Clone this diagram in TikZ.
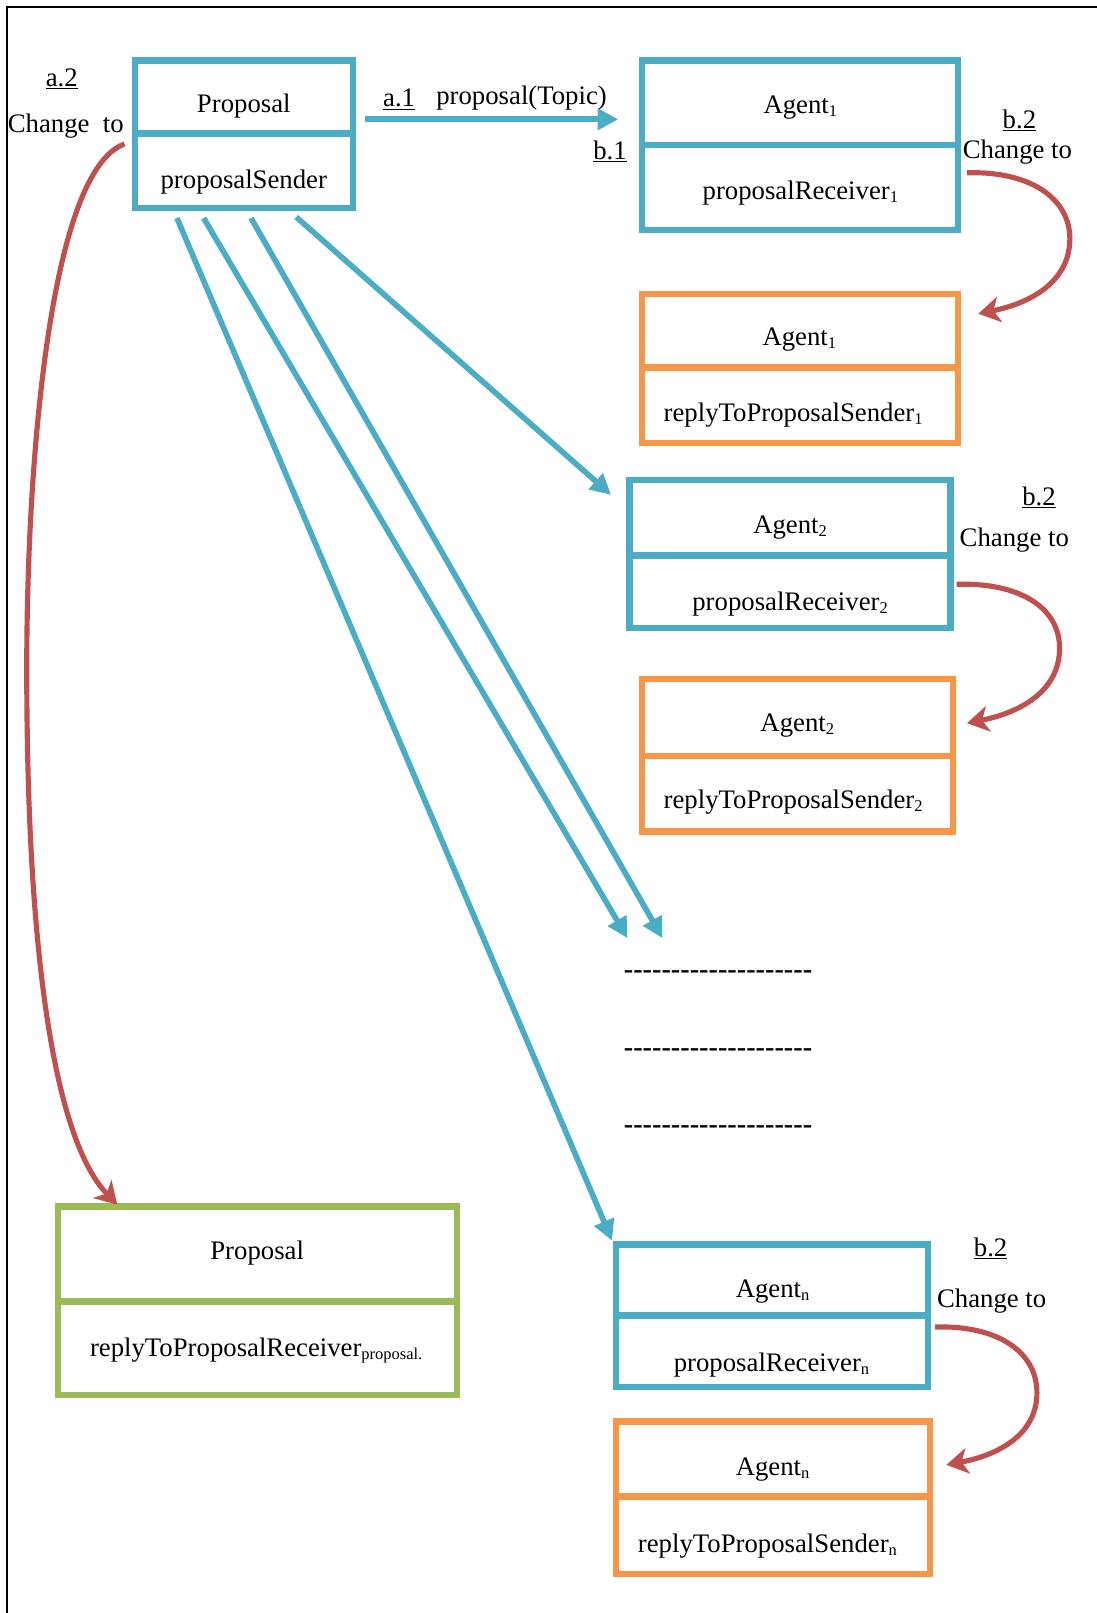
\documentclass[tikz,border=0pt]{standalone}
\usepackage{fontspec}
\setmainfont{Liberation Serif}
\usetikzlibrary{arrows.meta}
\definecolor{cblue}{HTML}{4BACC6}
\definecolor{corange}{HTML}{F79646}
\definecolor{cgreen}{HTML}{9BBB59}
\definecolor{cred}{HTML}{C0504D}
\newcommand\mysub[1]{\raisebox{-0.25ex}{\fontsize{16}{16}\selectfont #1}}
\newcommand\dashrow{-{}-{}-{}-{}-{}-{}-{}-{}-{}-{}-{}-{}-{}-{}-{}-{}-{}-{}-{}-{}}
\begin{document}
\begin{tikzpicture}[x=1pt,y=-1pt,
  box/.style={draw, line width=6pt, rectangle, inner sep=0pt},
  bbox/.style={box, draw=cblue},
  obox/.style={box, draw=corange},
  gbox/.style={box, draw=cgreen},
  txt/.style={font=\fontsize{26}{30}\selectfont, inner sep=0pt, text height=17.5pt, text depth=5.5pt, yshift=-2pt},
  dtxt/.style={font=\fontsize{27.5}{30}\selectfont\bfseries, inner sep=0pt},
  barrow/.style={draw=cblue, line width=5.5pt, -{Triangle[length=20pt,width=20pt]}},
  rarrow/.style={draw=cred, line width=5pt, -{Stealth[length=21pt,width=25pt,inset=6pt]}},
]
\useasboundingbox (0,0) rectangle (1066,1568);
% frame
\draw[line width=1.5pt] (7,1568) -- (7,7) -- (1066,7);

% Proposal (sender)
\node[bbox, minimum width=212, minimum height=71] (pt) at (237,94.25) {};
\node[bbox, minimum width=212, minimum height=72] (pb) at (237,166.25) {};
\node[txt] (ptt) at (237,101) {Proposal};
\node[txt] (pbt) at (237,175) {proposalSender};

% Agent1 blue
\node[bbox, minimum width=307, minimum height=82] (a1t) at (777.5,99.75) {};
\node[bbox, minimum width=307, minimum height=82] (a1b) at (777.5,182.25) {};
\node[txt] (a1tt) at (778,102) {Agent\mysub{1}};
\node[txt] (a1bt) at (778,186) {proposalReceiver\mysub{1}};

% Agent1 orange
\node[obox, minimum width=307, minimum height=71] (o1t) at (777.5,321.25) {};
\node[obox, minimum width=307, minimum height=73] (o1b) at (777.5,393.75) {};
\node[txt] (o1tt) at (777,328) {Agent\mysub{1}};
\node[txt] (o1bt) at (771,402) {replyToProposalSender\mysub{1}};

% Agent2 blue
\node[bbox, minimum width=312, minimum height=73] (a2t) at (768,503.25) {};
\node[bbox, minimum width=312, minimum height=70] (a2b) at (768,575.25) {};
\node[txt] (a2tt) at (768,511) {Agent\mysub{2}};
\node[txt] (a2bt) at (768,585) {proposalReceiver\mysub{2}};

% Agent2 orange
\node[obox, minimum width=302, minimum height=75] (o2t) at (775,697.25) {};
\node[obox, minimum width=302, minimum height=73] (o2b) at (775,771.75) {};
\node[txt] (o2tt) at (775,703) {Agent\mysub{2}};
\node[txt] (o2bt) at (771,778) {replyToProposalSender\mysub{2}};

% Green proposal
\node[gbox, minimum width=388, minimum height=92] (gt) at (250,1218.75) {};
\node[gbox, minimum width=388, minimum height=91] (gb) at (250,1310.75) {};
\node[txt] (gtt) at (250,1216) {Proposal};
\node[txt] (gbt) at (249,1311) {replyToProposalReceiver\mysub{proposal.}};

% Agent n blue
\node[bbox, minimum width=303, minimum height=69] (ant) at (750.5,1244.25) {};
\node[bbox, minimum width=303, minimum height=69] (anb) at (750.5,1313.75) {};
\node[txt] (antt) at (751,1253) {Agent\mysub{n}};
\node[txt] (anbt) at (750,1325) {proposalReceiver\mysub{n}};

% Agent n orange
\node[obox, minimum width=305, minimum height=73] (ont) at (751.5,1418.25) {};
\node[obox, minimum width=305, minimum height=75] (onb) at (751.5,1492.75) {};
\node[txt] (ontt) at (751,1426) {Agent\mysub{n}};
\node[txt] (onbt) at (746,1501) {replyToProposalSender\mysub{n}};

% labels
\node[txt] (la2) at (60,76) {\underline{a.2}};
\node[txt] (la2c) at (64,121) {Change\ \ to};
\node[txt] (la1) at (388,96) {\underline{a.1}};
\node[txt] (lpt) at (507,94) {proposal(Topic)};
\node[txt] (lb1) at (593,147) {\underline{b.1}};
\node[txt] (lb21) at (991,117) {\underline{b.2}};
\node[txt] (lb21c) at (989,146) {Change to};
\node[txt] (lb22) at (1010,483) {\underline{b.2}};
\node[txt] (lb22c) at (986,523) {Change to};
\node[txt] (lb2n) at (963,1213) {\underline{b.2}};
\node[txt] (lb2nc) at (964,1263) {Change to};

% dash rows
\node[dtxt] (d1) at (698,947) {\dashrow};
\node[dtxt] (d2) at (698,1023) {\dashrow};
\node[dtxt] (d3) at (698,1098) {\dashrow};

% coordinates for blue arrows
\coordinate (s0) at (355,116);
\coordinate (e0) at (601,116);
\coordinate (s1) at (288,211);
\coordinate (e1) at (594,481);
\coordinate (s2) at (244,212);
\coordinate (e2) at (644,912);
\coordinate (s3) at (198,212);
\coordinate (e3) at (610,912);
\coordinate (s4) at (172,212);
\coordinate (e4) at (595,1206);
\draw[barrow] (s0) -- (e0);
\draw[barrow] (s1) -- (e1);
\draw[barrow] (s2) -- (e2);
\draw[barrow] (s3) -- (e3);
\draw[barrow] (s4) -- (e4);

% red arrows
\coordinate (r0s) at (121,140);
\coordinate (r0m) at (26,650);
\coordinate (r0e) at (114,1171);
\draw[rarrow] (r0s) .. controls (50,165) and (26,440) .. (r0m) .. controls (26,940) and (55,1110) .. (r0e);

\coordinate (r1s) at (940,168);
\coordinate (r1m) at (1040,232);
\coordinate (r1e) at (951,305);
\draw[rarrow] (r1s) .. controls (1000,166) and (1040,192) .. (r1m) .. controls (1040,272) and (1005,294) .. (r1e);

\coordinate (r2s) at (930,568);
\coordinate (r2m) at (1030,630);
\coordinate (r2e) at (940,703);
\draw[rarrow] (r2s) .. controls (990,566) and (1030,590) .. (r2m) .. controls (1030,670) and (995,692) .. (r2e);

\coordinate (r3s) at (909,1290);
\coordinate (r3m) at (1008,1354);
\coordinate (r3e) at (920,1424);
\draw[rarrow] (r3s) .. controls (968,1288) and (1008,1313) .. (r3m) .. controls (1008,1393) and (973,1414) .. (r3e);
\end{tikzpicture}
\end{document}
